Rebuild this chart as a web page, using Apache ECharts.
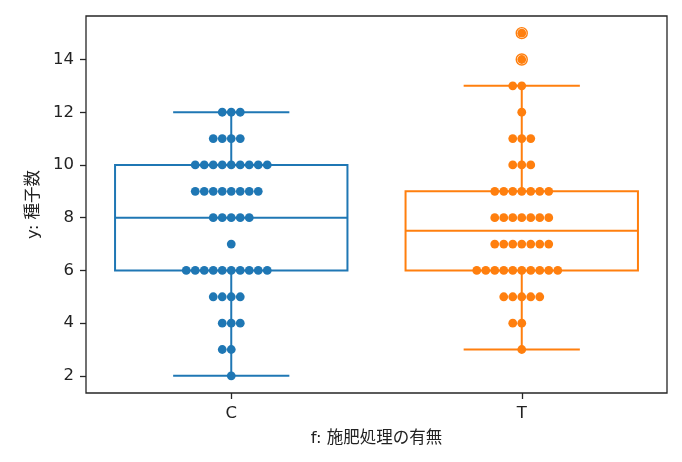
<!DOCTYPE html>
<html lang="ja">
<head>
<meta charset="UTF-8">
<title>施肥処理と種子数</title>
<script src="https://cdn.jsdelivr.net/npm/echarts@6/dist/echarts.min.js"></script>
<style>html, body { margin: 0; padding: 0; background: #fff; }</style>
</head>
<body>
<div id="main" style="width: 682px; height: 462px;"></div>
<script>
// データ
var groups = ['C', 'T'];
var seedsC = [2, 3, 3, 4, 4, 4, 5, 5, 5, 5,
              6, 6, 6, 6, 6, 6, 6, 6, 6, 6,
              7, 8, 8, 8, 8, 8,
              9, 9, 9, 9, 9, 9, 9, 9,
              10, 10, 10, 10, 10, 10, 10, 10, 10,
              11, 11, 11, 11, 12, 12, 12];
var seedsT = [3, 4, 4, 5, 5, 5, 5, 5,
              6, 6, 6, 6, 6, 6, 6, 6, 6, 6,
              7, 7, 7, 7, 7, 7, 7,
              8, 8, 8, 8, 8, 8, 8,
              9, 9, 9, 9, 9, 9, 9,
              10, 10, 10, 11, 11, 11, 12, 13, 13, 14, 15];
var yTicks = [2, 4, 6, 8, 10, 12, 14];
var colors = ['#1f77b4', '#ff7f0e'];
var textColor = '#222';
var fontFamily = '"DejaVu Sans", "Noto Sans CJK JP", sans-serif';

var allSeeds = [seedsC, seedsT];

// numpy と同じ線形補間の分位点
function quantile(sorted, p) {
    var pos = (sorted.length - 1) * p;
    var lo = Math.floor(pos), hi = Math.ceil(pos);
    return sorted[lo] + (sorted[hi] - sorted[lo]) * (pos - lo);
}

var boxData = [];
var flierData = [];
var swarmData = [];
allSeeds.forEach(function (vals, gi) {
    var s = vals.slice().sort(function (a, b) { return a - b; });
    var q1 = quantile(s, 0.25), med = quantile(s, 0.5), q3 = quantile(s, 0.75);
    var iqr = q3 - q1;
    var inside = s.filter(function (v) { return v >= q1 - 1.5 * iqr && v <= q3 + 1.5 * iqr; });
    boxData.push([gi, q1, med, q3, inside[0], inside[inside.length - 1]]);
    s.forEach(function (v) {
        if (v < q1 - 1.5 * iqr || v > q3 + 1.5 * iqr) flierData.push([gi, v]);
    });
    // 同じ値の点を横に並べる（スウォーム）
    var counts = {};
    s.forEach(function (v) { counts[v] = (counts[v] || 0) + 1; });
    Object.keys(counts).forEach(function (k) {
        var n = counts[k];
        for (var i = 0; i < n; i++) {
            swarmData.push([gi, Number(k), i - Math.floor(n / 2)]);
        }
    });
});

var dataMin = Math.min.apply(null, seedsC.concat(seedsT));
var dataMax = Math.max.apply(null, seedsC.concat(seedsT));
var pad = (dataMax - dataMin) * 0.05;

function renderBox(params, api) {
    var c = api.value(0);
    var q1 = api.coord([c, api.value(1)]);
    var med = api.coord([c, api.value(2)]);
    var q3 = api.coord([c, api.value(3)]);
    var lo = api.coord([c, api.value(4)]);
    var hi = api.coord([c, api.value(5)]);
    var band = api.size([1, 0])[0];
    var hw = band * 0.4, cw = band * 0.2;
    var x = q1[0];
    var st = { stroke: colors[c], lineWidth: 2, fill: 'none' };
    function line(x1, y1, x2, y2) {
        return { type: 'line', shape: { x1: x1, y1: y1, x2: x2, y2: y2 }, style: st };
    }
    return {
        type: 'group',
        children: [
            { type: 'rect', shape: { x: x - hw, y: q3[1], width: hw * 2, height: q1[1] - q3[1] }, style: st },
            line(x - hw, med[1], x + hw, med[1]),
            line(x, q1[1], x, lo[1]),
            line(x, q3[1], x, hi[1]),
            line(x - cw, lo[1], x + cw, lo[1]),
            line(x - cw, hi[1], x + cw, hi[1])
        ]
    };
}

function renderSwarm(params, api) {
    var c = api.value(0);
    var p = api.coord([c, api.value(1)]);
    return {
        type: 'circle',
        shape: { cx: p[0] + api.value(2) * 9, cy: p[1], r: 4.4 },
        style: { fill: colors[c] }
    };
}

function renderFlier(params, api) {
    var c = api.value(0);
    var p = api.coord([c, api.value(1)]);
    return {
        type: 'circle',
        shape: { cx: p[0], cy: p[1], r: 5.5 },
        style: { fill: 'none', stroke: colors[c], lineWidth: 1.4 }
    };
}

var myChart = echarts.init(document.getElementById('main'));
var option = {
    animation: false,
    backgroundColor: '#fff',
    textStyle: { fontFamily: fontFamily },
    grid: {
        left: 86, right: 15, top: 16, bottom: 69,
        show: true, borderColor: '#262626', borderWidth: 1.3, backgroundColor: 'transparent'
    },
    xAxis: {
        type: 'category',
        data: groups,
        boundaryGap: true,
        name: 'f: 施肥処理の有無',
        nameLocation: 'middle',
        nameGap: 37,
        nameTextStyle: { color: textColor, fontSize: 16.5, fontFamily: fontFamily },
        axisLine: { show: false },
        axisTick: { show: true, alignWithLabel: true, length: 6, lineStyle: { color: '#262626', width: 1.3 } },
        axisLabel: { color: textColor, fontSize: 16.5, margin: 12, fontFamily: fontFamily },
        splitLine: { show: false }
    },
    yAxis: {
        type: 'value',
        min: dataMin - pad,
        max: dataMax + pad,
        name: 'y: 種子数',
        nameLocation: 'middle',
        nameRotate: 90,
        nameGap: 44,
        nameTextStyle: { color: textColor, fontSize: 16.5, fontFamily: fontFamily },
        axisLine: { show: false },
        axisTick: { show: true, length: 6, customValues: yTicks, lineStyle: { color: '#262626', width: 1.3 } },
        axisLabel: { color: textColor, fontSize: 16.5, margin: 12, customValues: yTicks, fontFamily: fontFamily },
        splitLine: { show: false }
    },
    series: [
        { type: 'custom', name: 'box', renderItem: renderBox, data: boxData, encode: { x: 0, y: [1, 2, 3, 4, 5] }, z: 2 },
        { type: 'custom', name: 'swarm', renderItem: renderSwarm, data: swarmData, encode: { x: 0, y: 1 }, z: 3 },
        { type: 'custom', name: 'flier', renderItem: renderFlier, data: flierData, encode: { x: 0, y: 1 }, z: 4 }
    ]
};
myChart.setOption(option);
</script>
</body>
</html>
